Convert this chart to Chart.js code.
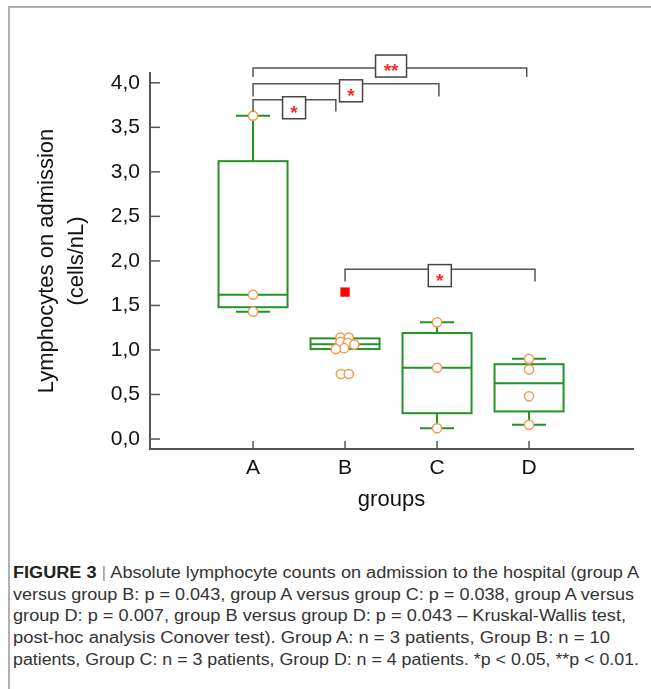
<!DOCTYPE html>
<html>
<head>
<meta charset="utf-8">
<script src="https://cdn.jsdelivr.net/npm/chart.js@4.4.1/dist/chart.umd.min.js"></script>
<style>
  html, body { margin: 0; padding: 0; background: #fff; }
  #wrap { position: relative; width: 651px; height: 689px; overflow: hidden; }
  #frame { position: absolute; left: 8px; top: 6px; right: 0; bottom: 0;
           border-top: 2px solid #b0b0b0; border-left: 2px solid #b0b0b0; }
  #chartBox { position: absolute; left: 0; top: 0; width: 651px; height: 540px; }
  #caption { position: absolute; left: 13px; top: 562px; color: #333;
             font: 16px "Liberation Sans", Arial, sans-serif; line-height: 21.7px; }
  #caption div { white-space: nowrap; width: max-content; transform-origin: 0 50%; }
  #caption b { color: #222; }
  #caption .sep { color: #999; }
</style>
</head>
<body>
<div id="wrap">
  <div id="frame"></div>
  <div id="chartBox"><canvas id="chart" width="651" height="540"></canvas></div>
  <div id="caption">
    <div data-w="626"><b>FIGURE 3</b> <span class="sep">|</span> Absolute lymphocyte counts on admission to the hospital (group A</div>
    <div data-w="621">versus group B: p = 0.043, group A versus group C: p = 0.038, group A versus</div>
    <div data-w="613">group D: p = 0.007, group B versus group D: p = 0.043 – Kruskal-Wallis test,</div>
    <div data-w="597">post-hoc analysis Conover test). Group A: n = 3 patients, Group B: n = 10</div>
    <div data-w="626">patients, Group C: n = 3 patients, Group D: n = 4 patients. *p &lt; 0.05, **p &lt; 0.01.</div>
  </div>
</div>
<script>
// groups and axis ticks
const groups = ["A", "B", "C", "D"];
const yTicks = [0, 0.5, 1, 1.5, 2, 2.5, 3, 3.5, 4];

// box plot summary per group
const whiskerLow  = [1.43, 1.01, 0.12, 0.16];
const q1          = [1.48, 1.01, 0.29, 0.31];
const median      = [1.62, 1.065, 0.80, 0.625];
const q3          = [3.12, 1.13, 1.19, 0.84];
const whiskerHigh = [3.63, 1.13, 1.31, 0.90];

// single patients
const pointsA = [3.63, 1.62, 1.43];
const pointsB = [1.14, 1.14, 1.09, 1.08, 1.06, 1.02, 1.01, 0.73, 0.73];
const jitterB = [-0.05, 0.04, -0.05, 0.03, 0.10, -0.01, -0.10, -0.045, 0.04];
const pointsC = [1.31, 0.80, 0.12];
const pointsD = [0.90, 0.78, 0.48, 0.16];
const outliersB = [1.65];

// significance brackets (x in group index, y in cells/nL)
const bracketStart = [0, 0, 0, 1];
const bracketEnd   = [0.90, 2.02, 2.975, 3.065];
const bracketLevel = [3.81, 3.99, 4.165, 1.907];
const bracketDrop  = [3.677, 3.846, 4.064, 1.77];
const bracketLabel = ["*", "*", "**", "*"];
const labelX = [0.446, 1.065, 1.5, 2.03];
const labelY = [3.72, 3.91, 4.188, 1.835];

const green = "#259225";
const orange = "#f39a52";
const boxWidth = 0.75, capWidth = 0.37;

const circles = [];
pointsA.forEach(v => circles.push({ x: 0, y: v }));
pointsB.forEach((v, i) => circles.push({ x: 1 + jitterB[i], y: v }));
pointsC.forEach(v => circles.push({ x: 2, y: v }));
pointsD.forEach(v => circles.push({ x: 3, y: v }));

function line(ctx, x1, y1, x2, y2) {
    ctx.beginPath(); ctx.moveTo(x1, y1); ctx.lineTo(x2, y2); ctx.stroke();
}

const boxPlugin = {
    id: "boxes",
    beforeDatasetsDraw(chart) {
        const { ctx, scales: { x, y } } = chart;
        ctx.save();
        // inward tick marks
        ctx.strokeStyle = "#555"; ctx.lineWidth = 1.5;
        y.ticks.forEach(t => { const py = y.getPixelForValue(t.value); line(ctx, x.left, py, x.left + 10, py); });
        x.ticks.forEach(t => { const px = x.getPixelForValue(t.value); line(ctx, px, y.bottom, px, y.bottom - 8); });
        // boxes and whiskers
        ctx.strokeStyle = green; ctx.lineWidth = 2;
        groups.forEach((g, i) => {
            const cx = x.getPixelForValue(i);
            const half = x.getPixelForValue(i + boxWidth / 2) - cx;
            const cap = x.getPixelForValue(i + capWidth / 2) - cx;
            const top = y.getPixelForValue(q3[i]), bot = y.getPixelForValue(q1[i]);
            ctx.strokeRect(cx - half, top, half * 2, bot - top);
            const pm = y.getPixelForValue(median[i]);
            line(ctx, cx - half, pm, cx + half, pm);
            if (whiskerHigh[i] > q3[i]) {
                const ph = y.getPixelForValue(whiskerHigh[i]);
                line(ctx, cx, top, cx, ph);
                line(ctx, cx - cap, ph, cx + cap, ph);
            }
            if (whiskerLow[i] < q1[i]) {
                const pl = y.getPixelForValue(whiskerLow[i]);
                line(ctx, cx, bot, cx, pl);
                line(ctx, cx - cap, pl, cx + cap, pl);
            }
        });
        ctx.restore();
    },
    afterDatasetsDraw(chart) {
        const { ctx, scales: { x, y } } = chart;
        ctx.save();
        ctx.strokeStyle = "#555"; ctx.lineWidth = 1.5;
        bracketLabel.forEach((lab, i) => {
            const xs = x.getPixelForValue(bracketStart[i]), xe = x.getPixelForValue(bracketEnd[i]);
            const yl = y.getPixelForValue(bracketLevel[i]), yd = y.getPixelForValue(bracketDrop[i]);
            ctx.beginPath();
            ctx.moveTo(xs, yd); ctx.lineTo(xs, yl); ctx.lineTo(xe, yl); ctx.lineTo(xe, yd);
            ctx.stroke();
            const cx = x.getPixelForValue(labelX[i]), cy = y.getPixelForValue(labelY[i]);
            const w = lab.length > 1 ? 31 : 23, h = 22;
            ctx.fillStyle = "#fff";
            ctx.fillRect(cx - w / 2, cy - h / 2, w, h);
            ctx.strokeStyle = "#444";
            ctx.strokeRect(cx - w / 2, cy - h / 2, w, h);
            ctx.fillStyle = "#f03030";
            ctx.font = "bold 19px 'Liberation Sans', Arial, sans-serif";
            ctx.textAlign = "center"; ctx.textBaseline = "alphabetic";
            ctx.fillText(lab, cx, cy + 11);
            ctx.strokeStyle = "#555";
        });
        ctx.restore();
    }
};

const fontFamily = "'Liberation Sans', Arial, sans-serif";

new Chart(document.getElementById("chart"), {
    type: "scatter",
    data: {
        datasets: [
            { data: circles, pointStyle: "circle", radius: 4.6, borderWidth: 1.5,
              borderColor: orange, backgroundColor: "#fff" },
            { data: outliersB.map(v => ({ x: 1, y: v })), pointStyle: "rect", radius: 6.6,
              borderWidth: 0, backgroundColor: "#ff0000", borderColor: "#ff0000" }
        ]
    },
    options: {
        responsive: false,
        animation: false,
        devicePixelRatio: 1,
        events: [],
        layout: { padding: { top: 73, right: 18, bottom: 0, left: 0 } },
        plugins: { legend: { display: false }, tooltip: { enabled: false } },
        scales: {
            x: {
                type: "linear", min: -1.12, max: 4.13,
                afterBuildTicks: s => { s.ticks = groups.map((g, i) => ({ value: i })); },
                afterFit: s => { s.height = 91; },
                ticks: { callback: v => groups[v] ?? "", padding: 7, color: "#111",
                         font: { family: fontFamily, size: 21 } },
                grid: { display: false, drawTicks: false },
                border: { color: "#555", width: 2 },
                title: { display: true, text: "groups", color: "#111",
                         font: { family: fontFamily, size: 22 }, padding: { top: 0, bottom: 27 } }
            },
            y: {
                type: "linear", min: -0.112, max: 4.11,
                afterBuildTicks: s => { s.ticks = yTicks.map(v => ({ value: v })); },
                afterFit: s => { s.width = 150; },
                ticks: { callback: v => v.toFixed(1).replace(".", ","), padding: 10, color: "#111",
                         font: { family: fontFamily, size: 21 } },
                grid: { display: false, drawTicks: false },
                border: { color: "#555", width: 2 },
                title: { display: true, text: ["Lymphocytes on admission", "(cells/nL)"], color: "#111",
                         font: { family: fontFamily, size: 22, lineHeight: 30 / 22 },
                         padding: { top: 32, bottom: 0 } }
            }
        }
    },
    plugins: [boxPlugin]
});

// fit each caption line to the width it has in the figure
document.querySelectorAll("#caption div").forEach(d => {
    const w = d.getBoundingClientRect().width;
    d.style.transform = "scaleX(" + (Number(d.dataset.w) / w) + ")";
});
</script>
</body>
</html>
